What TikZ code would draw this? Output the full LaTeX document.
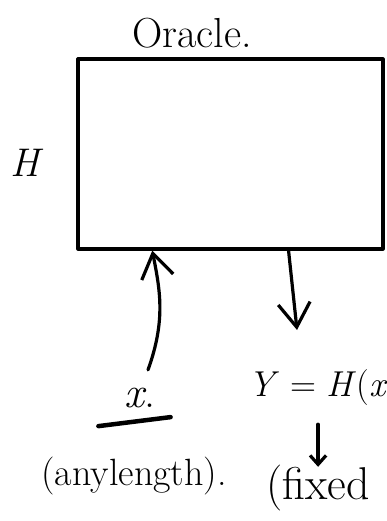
\documentclass[tikz,border=0pt]{standalone}
\usetikzlibrary{positioning,arrows.meta}
\tikzset{
  ink/.style={line width=3.2pt, line cap=round, line join=round},
  hand/.style={inner sep=0pt, font=\fontsize{38}{42}\selectfont},
  bigbarb/.style={ink, -{Straight Barb[length=24pt,width=32pt]}},
  smallbarb/.style={ink, -{Straight Barb[length=9pt,width=16pt]}}
}
\begin{document}
\begin{tikzpicture}[x=1pt,y=-1pt]
  \useasboundingbox (0,0) rectangle (386,521);
  % the black box
  \node[draw, ink, minimum width=305pt, minimum height=190pt] (oracle) at (230.5,154) {};
  \node[hand, font=\fontsize{42}{46}\selectfont] (title) at (192,33) {Oracle.};
  \node[hand, font=\fontsize{40}{44}\selectfont] (hname) at (27,163) {\textit{H}};
  % input side
  \node[hand, font=\fontsize{44}{48}\selectfont] (xin) at (140,398) {\textit{x}.};
  \draw[ink, line width=4.5pt] ([xshift=-26pt,yshift=-18pt]xin.south west) -- ([xshift=15pt,yshift=-9pt]xin.south east);
  \node[hand] (anylen) at (134,476) {(anylength).};
  \draw[bigbarb] ([xshift=8pt,yshift=18pt]xin.north) .. controls (166,320) and (160,290) .. (oracle.231);
  % output side
  \node[hand, font=\fontsize{36}{40}\selectfont, anchor=west] (yout) at (248,388) {\textit{Y} = \textit{H}(\textit{x}};
  \node[hand, font=\fontsize{46}{50}\selectfont, anchor=west] (fixed) at (266,488) {(fixed};
  \draw[bigbarb] (oracle.301) -- (297,330);
  \draw[smallbarb] ([yshift=-18pt]yout.south -| fixed.north) -- ([yshift=-2pt]fixed.north);
\end{tikzpicture}
\end{document}
